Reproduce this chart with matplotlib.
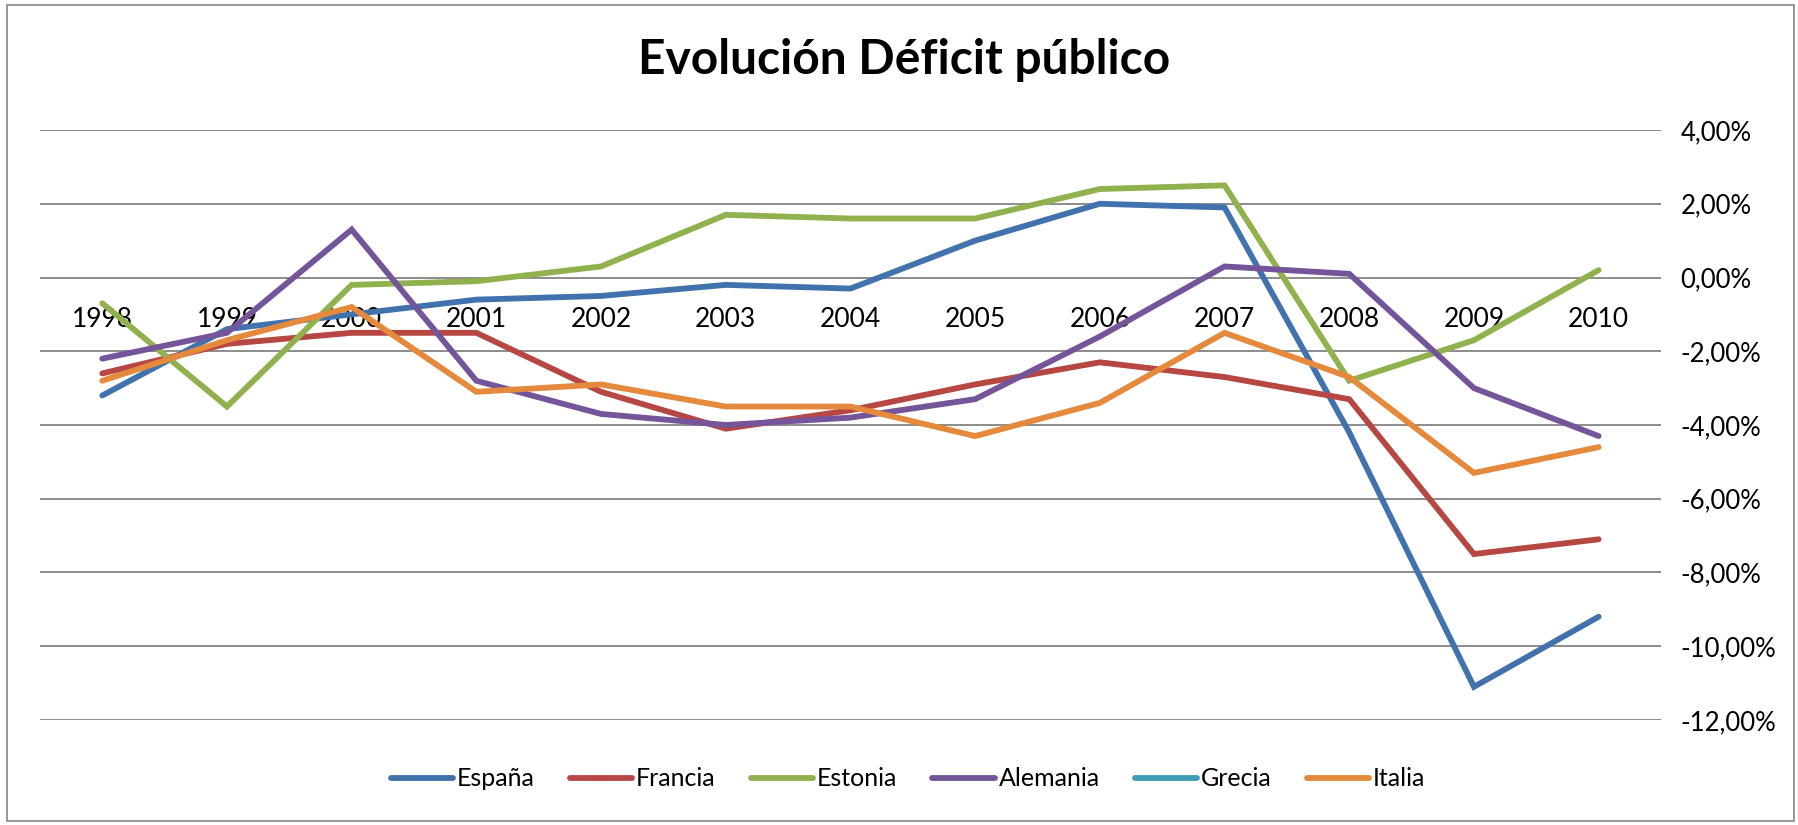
import numpy as np
import matplotlib.pyplot as plt
from matplotlib.patches import Rectangle
from matplotlib.ticker import FuncFormatter

plt.rcParams['font.family'] = ['Lato', 'DejaVu Sans']

# data (% of GDP)
years = ['1998', '1999', '2000', '2001', '2002', '2003', '2004',
         '2005', '2006', '2007', '2008', '2009', '2010']
espana = [-3.2, -1.4, -1.0, -0.6, -0.5, -0.2, -0.3, 1.0, 2.0, 1.9, -4.2, -11.1, -9.2]
francia = [-2.6, -1.8, -1.5, -1.5, -3.1, -4.1, -3.6, -2.9, -2.3, -2.7, -3.3, -7.5, -7.1]
estonia = [-0.7, -3.5, -0.2, -0.1, 0.3, 1.7, 1.6, 1.6, 2.4, 2.5, -2.8, -1.7, 0.2]
alemania = [-2.2, -1.5, 1.3, -2.8, -3.7, -4.0, -3.8, -3.3, -1.6, 0.3, 0.1, -3.0, -4.3]
grecia = []  # no values shown, only in the legend
italia = [-2.8, -1.7, -0.8, -3.1, -2.9, -3.5, -3.5, -4.3, -3.4, -1.5, -2.7, -5.3, -4.6]

series = [('España', espana, '#4172AD'),
          ('Francia', francia, '#B64743'),
          ('Estonia', estonia, '#90B24E'),
          ('Alemania', alemania, '#74559A'),
          ('Grecia', grecia, '#3E9DB8'),
          ('Italia', italia, '#E5893C')]

fig = plt.figure(figsize=(17.98, 8.25), dpi=100)
ax = fig.add_axes([0.0222, 0.1273, 0.9016, 0.7151])

# outer chart border
fig.patches.append(Rectangle((0.004, 0.005), 0.994, 0.989, transform=fig.transFigure,
                             fill=False, edgecolor='#868686', linewidth=1.2))

for name, vals, col in series:
    x = np.arange(len(vals))
    ax.plot(x, vals, color=col, linewidth=4.2, label=name,
            solid_capstyle='round', solid_joinstyle='miter')

ax.set_xlim(-0.5, len(years) - 0.5)
ax.set_ylim(-12, 4)
ax.set_yticks(np.arange(-12, 4.1, 2))
ax.yaxis.tick_right()
ax.yaxis.set_major_formatter(FuncFormatter(lambda v, p: f"{v:.2f}%".replace('.', ',')))
ax.tick_params(axis='y', length=0, pad=14, labelsize=18.5)
ax.grid(axis='y', color='#8C8C8C', linewidth=1.4)
ax.set_axisbelow(True)

# category axis crosses at zero
ax.set_xticks(np.arange(len(years)))
ax.set_xticklabels(years)
ax.spines['bottom'].set_position(('data', 0))
ax.tick_params(axis='x', length=0, pad=21, labelsize=19)
for s in ax.spines.values():
    s.set_visible(False)

fig.text(0.503, 0.927, 'Evolución Déficit público', ha='center', va='center',
         fontsize=34.5, fontweight='bold')

fig.legend(loc='center', bbox_to_anchor=(0.505, 0.0558), ncol=6, frameon=False,
           fontsize=18, handlelength=2.5, handletextpad=0.15, columnspacing=1.4)

fig.savefig('out.png', dpi=100)
